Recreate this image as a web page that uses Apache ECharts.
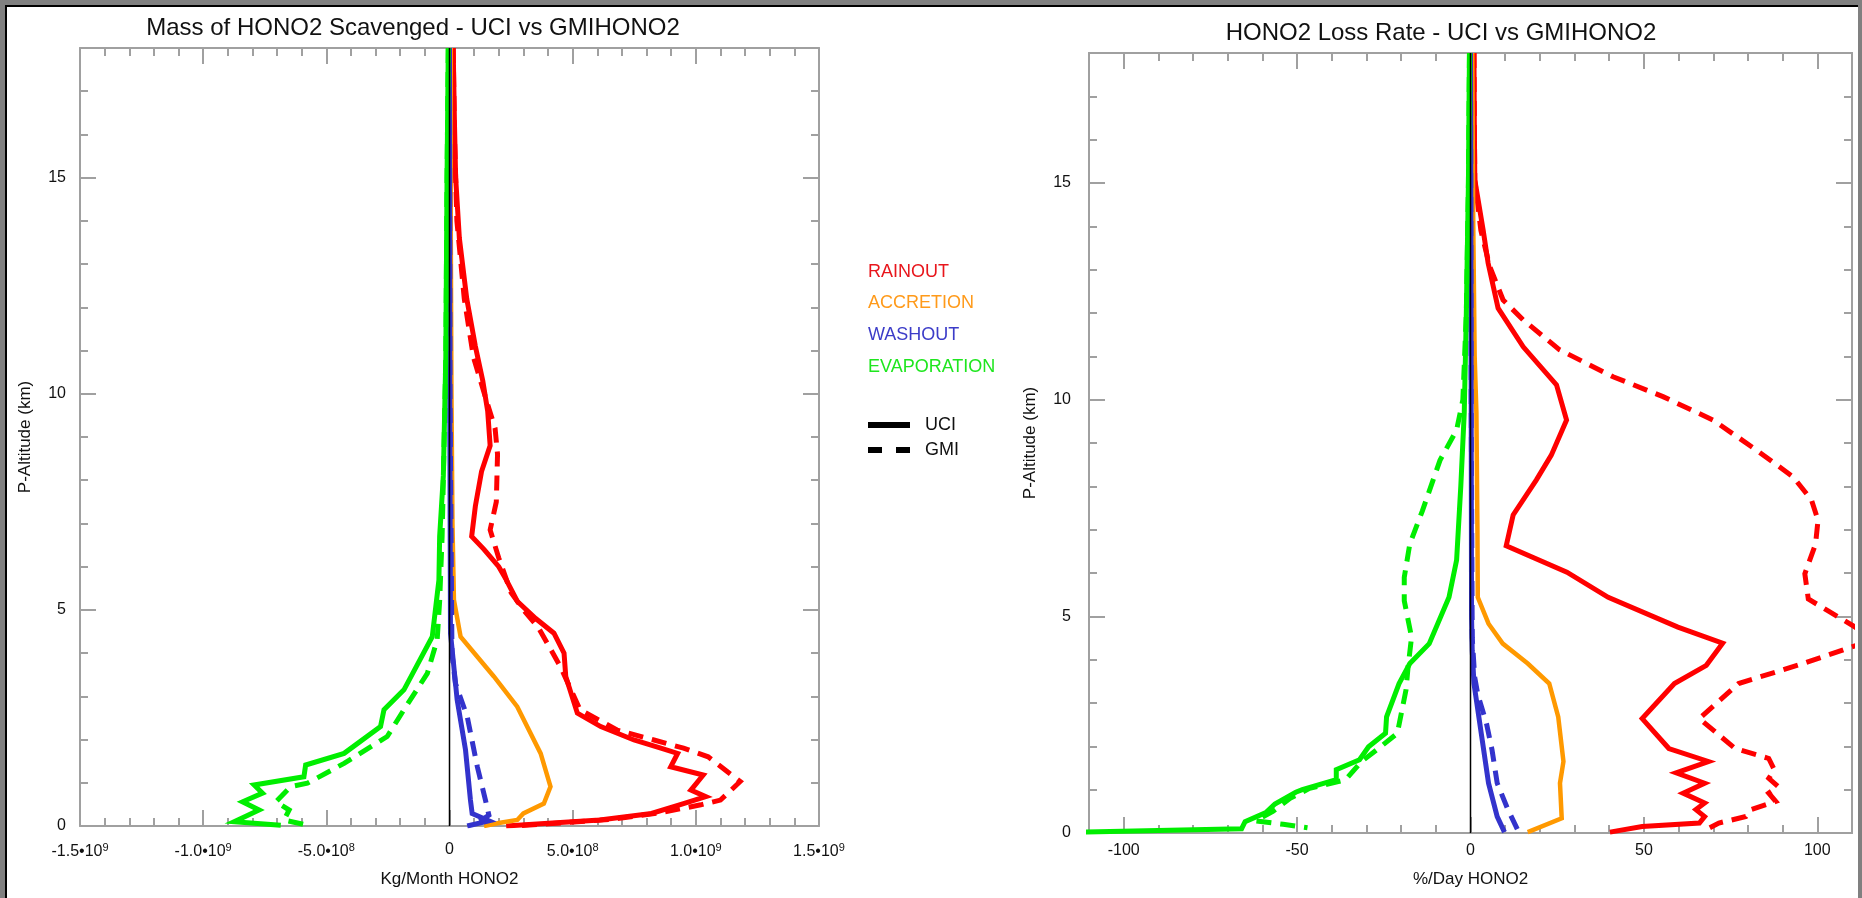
<!DOCTYPE html>
<html>
<head>
<meta charset="utf-8">
<title>HONO2 scavenging - UCI vs GMI</title>
<script src="https://cdn.jsdelivr.net/npm/echarts@6/dist/echarts.min.js"></script>
<style>
  html, body { margin: 0; padding: 0; background: #fff; }
  #chart { width: 1862px; height: 898px; }
</style>
</head>
<body>
<div id="chart"></div>
<script>
// altitude axis (km), shared by both panels
var altMin = 0, altMax = 18, altStep = 5;

// left panel: Kg/Month HONO2, points are [value, altitude km]
var massMin = -1.5e9, massMax = 1.5e9, massStep = 5e8;
var massRainUci = [[0.15e8,18],[0.2e8,16.3],[0.25e8,15],[0.4e8,13.6],[0.7e8,12.2],[1.05e8,11.1],[1.35e8,10.3],[1.55e8,9.6],[1.65e8,8.8],[1.3e8,8.2],[1.05e8,7.4],[0.9e8,6.7],[1.4e8,6.4],[2.0e8,6.0],[2.3e8,5.7],[2.75e8,5.2],[3.5e8,4.8],[4.24e8,4.46],[4.65e8,4.0],[4.72e8,3.46],[5.19e8,2.61],[6.14e8,2.3],[7.49e8,1.99],[8.58e8,1.8],[9.26e8,1.68],[8.98e8,1.37],[10.3e8,1.18],[9.8e8,0.83],[10.4e8,0.68],[9.5e8,0.52],[8.2e8,0.29],[6.1e8,0.14],[3.7e8,0.05],[2.3e8,0]];
var massRainGmi = [[0.15e8,18],[0.2e8,16],[0.3e8,14],[0.6e8,12.2],[0.97e8,10.85],[1.55e8,9.75],[1.85e8,9.2],[1.95e8,8.6],[1.9e8,7.5],[1.65e8,6.85],[2.0e8,6.2],[2.5e8,5.4],[3.0e8,5.0],[3.6e8,4.6],[4.5e8,3.69],[5.3e8,2.69],[6.8e8,2.22],[8.3e8,1.99],[9.5e8,1.8],[10.5e8,1.6],[11.8e8,1.03],[11.0e8,0.6],[10.2e8,0.49],[8.5e8,0.3],[6.5e8,0.15],[4.0e8,0.05],[2.6e8,0]];
var massAccUci = [[0.05e8,18],[0.05e8,14],[0.08e8,10],[0.12e8,7],[0.18e8,5.23],[0.45e8,4.38],[1.8e8,3.46],[2.75e8,2.76],[3.7e8,1.68],[4.1e8,0.91],[3.83e8,0.52],[3.0e8,0.29],[2.75e8,0.14],[2.0e8,0.07],[1.4e8,0]];
var massWashUci = [[0,18],[0.01e8,10],[0.04e8,4.46],[0.31e8,2.92],[0.65e8,1.76],[0.85e8,0.6],[0.92e8,0.29],[1.6e8,0.12],[0.72e8,0]];
var massWashGmi = [[0,18],[0.02e8,10],[0.1e8,4.0],[0.24e8,3.3],[0.72e8,2.53],[1.13e8,1.37],[1.46e8,0.6],[1.6e8,0.25],[0.95e8,0]];
var massEvapUci = [[-0.05e8,18],[-0.1e8,15],[-0.15e8,10.85],[-0.25e8,8.1],[-0.4e8,6.7],[-0.43e8,5.69],[-0.7e8,4.38],[-1.85e8,3.15],[-2.66e8,2.69],[-2.8e8,2.3],[-4.28e8,1.68],[-5.84e8,1.41],[-5.91e8,1.14],[-7.93e8,0.95],[-7.59e8,0.76],[-8.4e8,0.56],[-7.73e8,0.37],[-8.74e8,0.1],[-6.85e8,0.02]];
var massEvapGmi = [[-0.05e8,18],[-0.1e8,15],[-0.15e8,10.85],[-0.25e8,8.0],[-0.3e8,6.7],[-0.4e8,5.2],[-0.5e8,4.31],[-0.9e8,3.53],[-1.85e8,2.69],[-2.53e8,2.07],[-4.28e8,1.45],[-5.77e8,0.99],[-6.45e8,0.91],[-7.05e8,0.56],[-6.51e8,0.37],[-6.72e8,0.14],[-5.63e8,0]];

// right panel: %/Day HONO2
var rateMin = -110, rateMax = 110;
var rateTicks = [-100, -50, 0, 50, 100];
var rateRainUci = [[1.0,18],[1.1,16.4],[1.24,15.07],[3.64,13.92],[5.08,13.15],[7.96,12.11],[15.2,11.22],[24.8,10.34],[27.7,9.53],[23.3,8.72],[19.0,8.15],[12.3,7.34],[10.3,6.63],[27.8,6.02],[39.7,5.44],[59.8,4.75],[72.7,4.38],[68.0,3.87],[58.8,3.45],[49.5,2.64],[57.2,1.95],[68.6,1.65],[59.3,1.39],[67.5,1.15],[61.3,0.92],[67.5,0.69],[65,0.54],[67.5,0.38],[66,0.23],[49.5,0.15],[40.2,0.02]];
var rateRainGmi = [[1.0,18],[1.1,16.4],[1.24,15.07],[3.0,13.9],[5.56,13.07],[9.4,12.3],[15.2,11.84],[25.7,11.15],[41.1,10.53],[55.5,10.07],[69.9,9.53],[82.4,8.84],[93.0,8.22],[98.3,7.69],[100.2,7.22],[99.5,6.67],[96.4,5.98],[97.4,5.4],[103,5.13],[112,4.7],[112,4.35],[95.9,3.91],[77.3,3.45],[66,2.64],[76.3,1.95],[86,1.72],[87.6,1.46],[86,1.26],[88.7,1.07],[86,0.92],[88,0.73],[80.9,0.54],[79.4,0.38],[71.6,0.23],[69,0.12]];
var rateAccUci = [[0.5,18],[0.8,14],[1.2,11],[1.7,9.7],[2.0,7],[2.1,5.44],[5.2,4.83],[9.3,4.37],[16.5,3.91],[22.7,3.45],[25.3,2.68],[26.8,1.65],[25.8,1.15],[26.3,0.34],[16.5,0.02]];
var rateWashUci = [[0,18],[0.2,10],[0.3,5],[0.5,4.2],[1.0,3.45],[3.1,2.3],[5.2,1.15],[7.7,0.38],[9.8,0.02]];
var rateWashGmi = [[0,18],[0.2,10],[0.5,4.5],[1.2,3.6],[2.1,3.2],[4.6,2.53],[6.2,1.92],[7.7,1.15],[10.8,0.54],[13.9,0.02]];
var rateEvapUci = [[-0.3,18],[-0.6,15],[-1.2,12],[-1.8,9.7],[-2.8,8.0],[-4.0,6.3],[-6.2,5.44],[-11.9,4.37],[-17.5,3.91],[-20.6,3.45],[-24.2,2.68],[-24.5,2.3],[-29.4,1.99],[-32,1.69],[-38.7,1.46],[-38.7,1.23],[-48.5,1.0],[-50.4,0.94],[-56.4,0.67],[-59,0.47],[-65,0.26],[-66,0.1],[-112,0.02]];
var rateEvapGmi = [[-0.3,18],[-0.6,15],[-1.2,12],[-2.2,10],[-4.0,9.3],[-8.8,8.6],[-13.9,7.43],[-17.5,6.67],[-19.1,5.9],[-19.1,5.36],[-17,4.52],[-18,3.83],[-18.6,3.3],[-21.1,2.3],[-25.3,2.03],[-31.4,1.65],[-36,1.23],[-46.4,1.03],[-52,0.8],[-57,0.5],[-62,0.28],[-54,0.2],[-47,0.12]];

var zeroLine = [[0, altMin], [0, altMax]];

var legendNames = ['RAINOUT', 'ACCRETION', 'WASHOUT', 'EVAPORATION'];
var legendColors = ['#e8161c', '#ff9a1a', '#3c3cc8', '#1ee61e'];

var FONT = '"Liberation Sans", Arial, sans-serif';
var RED = '#ff0000', ORANGE = '#ff9900', BLUE = '#3333cc', GREEN = '#00ee00';
var AXIS_GREY = '#a0a0a0';

var chart = echarts.init(document.getElementById('chart'));

// "5.0•10^8" style labels
function sciLabel(v) {
    if (v === 0) return '{b|0}';
    var e = Math.floor(Math.log10(Math.abs(v)) + 1e-9);
    var m = (v / Math.pow(10, e)).toFixed(1);
    return '{b|' + m + '•10}{s|' + e + '}';
}

function frameAxis(extra) {
    var a = {
        type: 'value',
        axisLine: { show: true, onZero: false, lineStyle: { color: AXIS_GREY, width: 2 } },
        axisTick: { show: true, inside: true, length: 16, lineStyle: { color: AXIS_GREY, width: 2 } },
        minorTick: { show: true, splitNumber: 5, length: 8, lineStyle: { color: AXIS_GREY, width: 2 } },
        splitLine: { show: false },
        axisLabel: { show: false }
    };
    return Object.assign(a, extra);
}

var labelStyle = { color: '#111', fontFamily: FONT, fontSize: 16 };

var xAxes = [
    // left panel
    frameAxis({ gridIndex: 0, position: 'bottom', min: massMin, max: massMax, interval: massStep,
        name: 'Kg/Month HONO2', nameLocation: 'middle', nameGap: 45,
        nameTextStyle: { color: '#111', fontFamily: FONT, fontSize: 17 },
        axisLabel: { show: true, margin: 16, formatter: sciLabel,
            rich: { b: { color: '#111', fontFamily: FONT, fontSize: 16 },
                    s: { color: '#111', fontFamily: FONT, fontSize: 11, padding: [0, 0, 9, 0] } } } }),
    frameAxis({ gridIndex: 0, position: 'top', min: massMin, max: massMax, interval: massStep }),
    // right panel: long ticks + labels
    frameAxis({ gridIndex: 1, position: 'bottom', min: rateMin, max: rateMax, interval: 10,
        name: '%/Day HONO2', nameLocation: 'middle', nameGap: 38,
        nameTextStyle: { color: '#111', fontFamily: FONT, fontSize: 17 },
        minorTick: { show: false },
        axisTick: { show: true, inside: true, length: 16, customValues: rateTicks, lineStyle: { color: AXIS_GREY, width: 2 } },
        axisLabel: Object.assign({ show: true, margin: 10, customValues: rateTicks }, labelStyle) }),
    frameAxis({ gridIndex: 1, position: 'bottom', min: rateMin, max: rateMax, interval: 10,
        minorTick: { show: false }, axisTick: { show: true, inside: true, length: 8, lineStyle: { color: AXIS_GREY, width: 2 } } }),
    frameAxis({ gridIndex: 1, position: 'top', min: rateMin, max: rateMax, interval: 10,
        minorTick: { show: false },
        axisTick: { show: true, inside: true, length: 16, customValues: rateTicks, lineStyle: { color: AXIS_GREY, width: 2 } } }),
    frameAxis({ gridIndex: 1, position: 'top', min: rateMin, max: rateMax, interval: 10,
        minorTick: { show: false }, axisTick: { show: true, inside: true, length: 8, lineStyle: { color: AXIS_GREY, width: 2 } } })
];

function altAxis(grid, pos, withLabels, gap, margin) {
    var a = frameAxis({ gridIndex: grid, position: pos, min: altMin, max: altMax, interval: altStep });
    if (withLabels) {
        a.name = 'P-Altitude (km)';
        a.nameLocation = 'middle';
        a.nameGap = gap;
        a.nameTextStyle = { color: '#111', fontFamily: FONT, fontSize: 17 };
        a.axisLabel = Object.assign({ show: true, margin: margin, showMaxLabel: false }, labelStyle);
    }
    return a;
}

var yAxes = [
    altAxis(0, 'left', true, 46, 14),
    altAxis(0, 'right', false),
    altAxis(1, 'left', true, 50, 18),
    altAxis(1, 'right', false)
];

function profile(data, color, dashed, xi, yi, w) {
    return {
        type: 'line', data: data, xAxisIndex: xi, yAxisIndex: yi,
        symbol: 'none', clip: true, z: 2, silent: true,
        lineStyle: { color: color, width: w || 5, type: dashed ? [15, 9] : 'solid', cap: 'butt', join: 'miter' }
    };
}

var series = [
    profile(massRainUci, RED, false, 0, 0),
    profile(massRainGmi, RED, true, 0, 0),
    profile(massAccUci, ORANGE, false, 0, 0, 4.5),
    profile(massWashUci, BLUE, false, 0, 0),
    profile(massWashGmi, BLUE, true, 0, 0),
    profile(massEvapUci, GREEN, false, 0, 0),
    profile(massEvapGmi, GREEN, true, 0, 0),
    Object.assign(profile(zeroLine, '#000', false, 0, 0, 1.5), { z: 5 }),

    profile(rateRainUci, RED, false, 2, 2),
    profile(rateRainGmi, RED, true, 2, 2),
    profile(rateAccUci, ORANGE, false, 2, 2, 4.5),
    profile(rateWashUci, BLUE, false, 2, 2),
    profile(rateWashGmi, BLUE, true, 2, 2),
    profile(rateEvapUci, GREEN, false, 2, 2),
    profile(rateEvapGmi, GREEN, true, 2, 2),
    Object.assign(profile(zeroLine, '#000', false, 2, 2, 1.5), { z: 5 })
];

// legend is plain coloured text, as in the original plot
var legendY = [272, 303, 335, 367];
var graphics = [
    { type: 'rect', shape: { x: 0, y: 0, width: 1862, height: 5 }, style: { fill: '#808080' } },
    { type: 'rect', shape: { x: 0, y: 0, width: 5, height: 898 }, style: { fill: '#808080' } },
    { type: 'rect', shape: { x: 1858, y: 0, width: 4, height: 898 }, style: { fill: '#808080' } },
    { type: 'rect', shape: { x: 5, y: 5, width: 1853, height: 2 }, style: { fill: '#000' } },
    { type: 'rect', shape: { x: 5, y: 5, width: 2, height: 893 }, style: { fill: '#000' } },
    { type: 'text', x: 413, y: 28, style: { text: 'Mass of HONO2 Scavenged - UCI vs GMIHONO2', fill: '#111',
        font: '24px ' + FONT, textAlign: 'center', textVerticalAlign: 'middle' } },
    { type: 'text', x: 1441, y: 33, style: { text: 'HONO2 Loss Rate - UCI vs GMIHONO2', fill: '#111',
        font: '24px ' + FONT, textAlign: 'center', textVerticalAlign: 'middle' } },
    { type: 'line', shape: { x1: 868, y1: 425, x2: 910, y2: 425 }, style: { stroke: '#000', lineWidth: 6 } },
    { type: 'line', shape: { x1: 868, y1: 450, x2: 910, y2: 450 }, style: { stroke: '#000', lineWidth: 6, lineDash: [14, 14] } },
    { type: 'text', x: 925, y: 425, style: { text: 'UCI', fill: '#111', font: '18px ' + FONT, textVerticalAlign: 'middle' } },
    { type: 'text', x: 925, y: 450, style: { text: 'GMI', fill: '#111', font: '18px ' + FONT, textVerticalAlign: 'middle' } }
];
legendNames.forEach(function (n, i) {
    graphics.push({ type: 'text', x: 868, y: legendY[i],
        style: { text: n, fill: legendColors[i], font: '18px ' + FONT, textVerticalAlign: 'middle' } });
});

chart.setOption({
    backgroundColor: '#fff',
    animation: false,
    grid: [
        { left: 80, top: 48, width: 739, height: 778 },
        { left: 1089, top: 53, width: 763, height: 780 }
    ],
    xAxis: xAxes,
    yAxis: yAxes,
    series: series,
    graphic: graphics
});
</script>
</body>
</html>
